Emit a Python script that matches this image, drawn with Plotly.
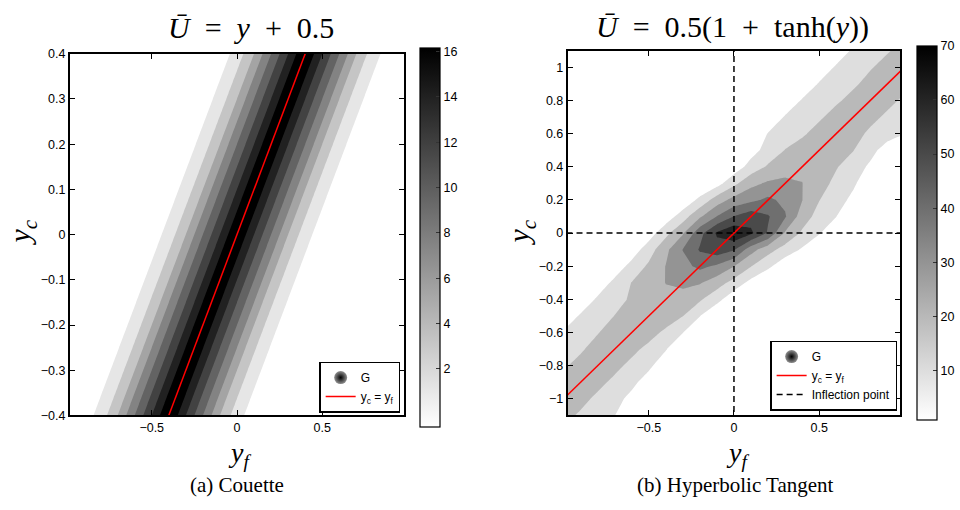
import numpy as np
import plotly.graph_objects as go

# ---------------- data ----------------
# Couette: G depends only on the offset d = y_f - y_c.
# Half profile at |d| = 0, 0.025, ..., 0.5
couette_g_half = [16.8, 16.6, 16.1, 15.0, 14.0, 13.0, 12.0, 11.0, 10.0, 9.0,
                  8.0, 7.0, 6.0, 5.2, 4.3, 3.7, 3.0, 2.4, 1.8, 1.2, 0.6]
couette_step = 0.025
couette_yf = [round(-1.0 + couette_step * j, 4) for j in range(81)]
couette_yc = [round(-0.4 + couette_step * i, 4) for i in range(33)]

# Hyperbolic tangent: G on rows of y_c (-1.1 ... 1.1, step 0.1);
# each row lists G at offsets d = y_f - y_c = -0.7 ... 0.7 (step 0.1)
tanh_yc = [round(-1.1 + 0.1 * i, 2) for i in range(23)]
tanh_offsets = [round(-0.7 + 0.1 * k, 2) for k in range(15)]
tanh_rows = [
    [0, 0, 1, 11, 15, 19, 22, 25, 22, 19, 14, 10.2, 1, 0, 0],          # -1.1
    [0, 0, 1, 11, 15, 19, 22, 25, 22, 18.5, 13.5, 7, 0, 0, 0],         # -1.0
    [0, 0, 1, 11, 15, 19, 22, 25, 22, 18.3, 12.8, 5, 0, 0, 0],         # -0.9
    [0, 0, 1.5, 11, 15, 19, 22.5, 26, 22, 18, 12.3, 3, 0, 0, 0],       # -0.8
    [0, 0, 2, 11, 15, 19, 23, 26, 22, 17.9, 10.7, 1, 0, 0, 0],         # -0.7
    [0, 0, 2, 11, 15.2, 19.6, 23.3, 27, 23.1, 18.3, 10.3, 1, 0, 0, 0], # -0.6
    [0, 0, 3, 11.3, 15.7, 20.2, 24.5, 29, 24.5, 20.2, 10.3, 1, 0, 0, 0],   # -0.5
    [0, 0, 3, 11.6, 16.8, 21.3, 24.7, 28, 24.7, 21.3, 13.3, 3, 0, 0, 0],   # -0.4
    [0, 0, 3.7, 12.7, 20.3, 25, 30.2, 33, 30.8, 24.6, 16.3, 6.7, 0, 0, 0], # -0.3
    [0, 0, 4.1, 13.4, 21.7, 30.3, 36.7, 42.5, 38.3, 30.3, 20.3, 12.3, 3, 0, 0],  # -0.2
    [0, 0, 4.5, 15.3, 27.5, 40.3, 51, 56, 51, 33.8, 23.6, 15.9, 8.7, 0, 0],      # -0.1
    [0, 0, 4.8, 17, 28.9, 46.7, 61.3, 68, 61.8, 49, 28.9, 18.5, 10.9, 1.2, 0],   # 0.0
    [0, 0, 4.3, 15.2, 28.6, 40.3, 50.3, 56, 51, 41.1, 25, 16.3, 10.2, 0, 0],     # 0.1
    [0, 0, 2.5, 12.6, 25, 33.2, 37.7, 42, 37.7, 30.3, 20.3, 14.3, 7.5, 0, 0],    # 0.2
    [0, 0, 0, 6, 17.5, 27.3, 31.5, 33, 30.2, 23.8, 17.6, 11.7, 3, 0, 0],         # 0.3
    [0, 0, 0, 4, 14, 21.3, 24.7, 28, 24.4, 20.7, 15.1, 8.2, 0, 0, 0],            # 0.4
    [0, 0, 0, 6, 13.8, 20.3, 23, 26, 23, 20.3, 13.4, 5.2, 0, 0, 0],              # 0.5
    [0, 0, 1, 10.5, 15, 19, 22.5, 26, 22.5, 18.7, 14.3, 10.2, 1, 0, 0],          # 0.6
    [0, 0, 1.5, 11, 15, 19, 22.5, 25.5, 22, 18.7, 14.3, 10.5, 1.5, 0, 0],        # 0.7
    [0, 0, 2, 11, 15, 19, 22, 25, 22, 18.7, 14.5, 10.8, 2, 0, 0],                # 0.8
    [0, 0, 2, 11, 15, 19, 22, 25, 22, 18.8, 14.6, 11, 2, 0, 0],                  # 0.9
    [0, 0, 2, 11.5, 15.5, 19.5, 22, 25, 22, 19, 14.6, 11, 2, 0, 0],              # 1.0
    [0, 0, 2.5, 12, 16, 19.5, 22, 25, 22, 19, 14.6, 11, 2, 0, 0],                # 1.1
]
tanh_yf = [round(-1.8 + 0.1 * j, 2) for j in range(37)]

# reference line y_c = y_f and inflection point of tanh profile
diag_yf = [-1.1, 1.1]
diag_yc = [-1.1, 1.1]
inflection_yf = 0.0
inflection_yc = 0.0

couette_ticks = [2, 4, 6, 8, 10, 12, 14, 16]
tanh_ticks = [10, 20, 30, 40, 50, 60, 70]
left_yticks = [-0.4, -0.3, -0.2, -0.1, 0, 0.1, 0.2, 0.3, 0.4]
left_yticktext = ["\u22120.4", "\u22120.3", "\u22120.2", "\u22120.1", "0", "0.1", "0.2", "0.3", "0.4"]
right_yticks = [-1, -0.8, -0.6, -0.4, -0.2, 0, 0.2, 0.4, 0.6, 0.8, 1]
right_yticktext = ["\u22121", "\u22120.8", "\u22120.6", "\u22120.4", "\u22120.2", "0",
                   "0.2", "0.4", "0.6", "0.8", "1"]
xticks = [-0.5, 0, 0.5]
xticktext = ["\u22120.5", "0", "0.5"]

# ---------------- grids ----------------
g_full = couette_g_half[::-1] + couette_g_half[1:]        # d = -0.5 ... 0.5
n_off = int(round((couette_yf[0] - couette_yc[0] + 0.5) / couette_step))  # index shift
z_couette = np.zeros((len(couette_yc), len(couette_yf)))
for i in range(len(couette_yc)):
    for j in range(len(couette_yf)):
        k = j - i + n_off
        if 0 <= k < len(g_full):
            z_couette[i, j] = g_full[k]

z_tanh = np.zeros((len(tanh_yc), len(tanh_yf)))
shift = int(round((tanh_yf[0] - tanh_yc[0] - tanh_offsets[0]) / 0.1))
for i, row in enumerate(tanh_rows):
    for j in range(len(tanh_yf)):
        k = j - i + shift
        if 0 <= k < len(row):
            z_tanh[i, j] = row[k]

# ---------------- figure ----------------
W, H = 960, 510
gray = [[0, "#ffffff"], [1, "#000000"]]
sans = "Liberation Sans, Arial, sans-serif"
serif = "Liberation Serif, Times New Roman, serif"

fig = go.Figure()

# Couette panel
fig.add_trace(go.Contour(
    x=couette_yf, y=couette_yc, z=z_couette,
    contours=dict(start=2, end=16, size=2, coloring="fill"),
    colorscale=[[0, "#ffffff"], [0.125, "#e6e6e6"], [1, "#000000"]],
    showscale=False, line=dict(width=0, smoothing=0),
    hoverinfo="skip", xaxis="x", yaxis="y", showlegend=False))
fig.add_trace(go.Scatter(
    x=[None], y=[None], mode="markers", name="G", legend="legend",
    marker=dict(symbol="circle", size=13, color="#909090",
                gradient=dict(type="radial", color="#000000"), line=dict(width=0)),
    xaxis="x", yaxis="y"))
fig.add_trace(go.Scatter(
    x=diag_yf, y=diag_yc, mode="lines", name="y<sub>c</sub> = y<sub>f</sub>",
    legend="legend", line=dict(color="#ff0000", width=1.5), xaxis="x", yaxis="y"))
fig.add_trace(go.Scatter(
    x=[None], y=[None], mode="markers", showlegend=False, hoverinfo="skip",
    marker=dict(color=[couette_ticks[0]], cmin=-0.55, cmax=16.18, colorscale=gray,
                showscale=True,
                colorbar=dict(x=421 / W, xanchor="left", xpad=0, ypad=0,
                              y=1 - 236.5 / H, yanchor="middle",
                              len=379, lenmode="pixels", thickness=20,
                              outlinewidth=1.2, outlinecolor="black",
                              tickvals=couette_ticks, ticks="inside", ticklen=4,
                              tickcolor="#333", tickfont=dict(family=sans, size=12.5, color="black"))),
    xaxis="x", yaxis="y"))

# Hyperbolic tangent panel
fig.add_trace(go.Contour(
    x=tanh_yf, y=tanh_yc, z=z_tanh,
    contours=dict(start=10, end=60, size=10, coloring="fill"),
    colorscale=[[0, "#ffffff"], [1 / 6, "#dedede"], [1, "#252525"]], showscale=False,
    line=dict(width=0, smoothing=0), hoverinfo="skip",
    xaxis="x2", yaxis="y2", showlegend=False))
fig.add_trace(go.Scatter(
    x=[None], y=[None], mode="markers", name="G", legend="legend2",
    marker=dict(symbol="circle", size=13, color="#909090",
                gradient=dict(type="radial", color="#000000"), line=dict(width=0)),
    xaxis="x2", yaxis="y2"))
fig.add_trace(go.Scatter(
    x=diag_yf, y=diag_yc, mode="lines", name="y<sub>c</sub> = y<sub>f</sub>",
    legend="legend2", line=dict(color="#ff0000", width=1.5), xaxis="x2", yaxis="y2"))
fig.add_trace(go.Scatter(
    x=[inflection_yf, inflection_yf, None, -1.1, 1.1],
    y=[-1.2, 1.2, None, inflection_yc, inflection_yc],
    mode="lines", name="Inflection point", legend="legend2",
    line=dict(color="black", width=1.5, dash="6px,4px"), xaxis="x2", yaxis="y2"))
fig.add_trace(go.Scatter(
    x=[None], y=[None], mode="markers", showlegend=False, hoverinfo="skip",
    marker=dict(color=[tanh_ticks[0]], cmin=1, cmax=70, colorscale=gray,
                showscale=True,
                colorbar=dict(x=919 / W, xanchor="left", xpad=0, ypad=0,
                              y=1 - 232 / H, yanchor="middle",
                              len=374, lenmode="pixels", thickness=20,
                              outlinewidth=1.2, outlinecolor="black",
                              tickvals=tanh_ticks, ticks="inside", ticklen=4,
                              tickcolor="#333", tickfont=dict(family=sans, size=12.5, color="black"))),
    xaxis="x2", yaxis="y2"))

axis_common = dict(showgrid=False, zeroline=False, showline=True, linewidth=2,
                   linecolor="black", mirror="ticks", ticks="inside", ticklen=5,
                   tickwidth=1, tickcolor="black",
                   tickfont=dict(family=sans, size=12.5, color="black"))

legend_common = dict(bgcolor="white", bordercolor="black", borderwidth=1.5,
                     font=dict(family=sans, size=12, color="black"),
                     itemwidth=30, tracegroupgap=0, xanchor="right", yanchor="bottom")

fig.update_layout(
    width=W, height=H, margin=dict(l=0, r=0, t=0, b=0),
    paper_bgcolor="white", plot_bgcolor="white",
    xaxis=dict(domain=[70 / W, 405 / W], range=[-0.98, 0.98], anchor="y",
               tickvals=xticks, ticktext=xticktext, **axis_common),
    yaxis=dict(domain=[1 - 420 / H, 1 - 48 / H], range=[-0.4, 0.4], anchor="x",
               tickvals=left_yticks, ticktext=left_yticktext, **axis_common),
    xaxis2=dict(domain=[569 / W, 902 / W], range=[-0.975, 0.975], anchor="y2",
                tickvals=xticks, ticktext=xticktext, **axis_common),
    yaxis2=dict(domain=[1 - 420 / H, 1 - 45 / H], range=[-1.1, 1.1], anchor="x2",
                tickvals=right_yticks, ticktext=right_yticktext, **axis_common),
    legend=dict(x=401 / W, y=1 - 417 / H, **legend_common),
    legend2=dict(x=899 / W, y=1 - 415 / H, **legend_common),
)

ann = []
def add_text(text, px, py, size, angle=0, family=serif):
    ann.append(dict(text=text, x=px / W, y=1 - py / H, xref="paper", yref="paper",
                    showarrow=False, xanchor="center", yanchor="middle", textangle=angle,
                    font=dict(family=family, size=size, color="black")))

sp = "\u2002"
add_text(f"<i>\u016a</i>{sp}={sp}<i>y</i>{sp}+{sp}0.5", 252, 21, 30)
add_text(f"<i>\u016a</i>{sp}={sp}0.5(1{sp}+{sp}tanh(<i>y</i>))", 734, 21, 30)
add_text("<i>y<sub>f</sub></i>", 240, 460, 28)
add_text("<i>y<sub>f</sub></i>", 739, 460, 28)
add_text("<i>y<sub>c</sub></i>", 22, 232, 30, -90)
add_text("<i>y<sub>c</sub></i>", 522, 232, 30, -90)
add_text("(a) Couette", 237, 492, 21)
add_text("(b) Hyperbolic Tangent", 737, 492, 21)
fig.update_layout(annotations=ann)

fig.write_html("out.html")
